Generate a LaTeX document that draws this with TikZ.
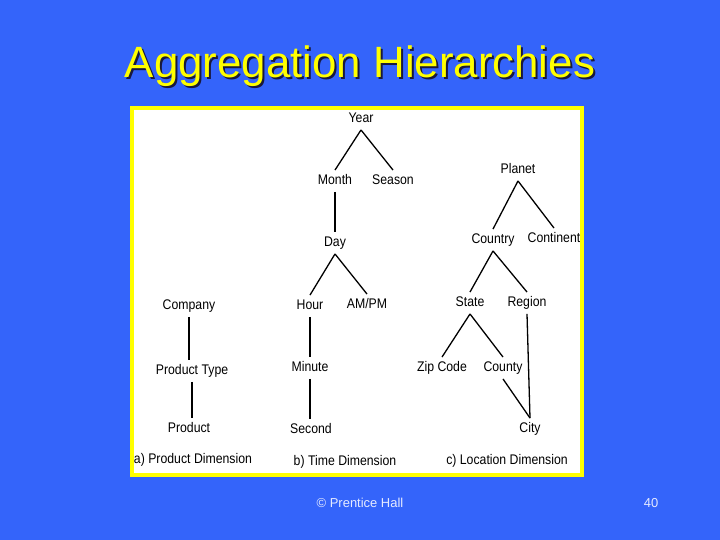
\documentclass[tikz,border=0pt]{standalone}
\usepackage{fontspec}
\setmainfont{Liberation Sans}
\newfontfamily\narrowfont[FakeStretch=0.88]{Liberation Sans}
\definecolor{slideblue}{RGB}{52,100,250}
\definecolor{slideyellow}{RGB}{255,255,0}
\definecolor{titleshadow}{RGB}{25,25,60}
\definecolor{footgray}{RGB}{230,235,255}

\begin{document}
\begin{tikzpicture}[x=1bp, y=-1bp,
	lbl/.style={inner xsep=1bp, inner ysep=4bp, text height=10.5bp, text depth=3bp, font=\narrowfont\fontsize{14}{16}\selectfont},
	caption/.style={inner sep=1bp, font=\narrowfont\fontsize{14}{16}\selectfont},
	edge/.style={line width=1.3bp, black}]
	%%%	Sfondo
	\useasboundingbox (0,0) rectangle (720,540);
	\fill[slideblue] (0,0) rectangle (720,540);
	\fill[white] (132,108) rectangle (582,475);
	%%%	Titolo
	\node[slideyellow, font=\fontsize{44}{48}\selectfont] (title) at (360,67)
		{\rlap{\kern2bp\raisebox{-2bp}{\color{titleshadow}Aggregation Hierarchies}}Aggregation Hierarchies};
	%%%	a) Product
	\node[lbl] (company) at (189,306) {Company};
	\node[lbl] (ptype) at (192,371) {Product Type};
	\node[lbl] (product) at (189,429) {Product};
	%%%	b) Time
	\node[lbl] (year) at (361,119) {Year};
	\node[lbl] (month) at (335,181) {Month};
	\node[lbl] (season) at (393,181) {Season};
	\node[lbl] (day) at (335,243) {Day};
	\node[lbl] (hour) at (310,306) {Hour};
	\node[lbl] (ampm) at (367,305) {AM/PM};
	\node[lbl] (minute) at (310,368) {Minute};
	\node[lbl] (second) at (311,430) {Second};
	%%%	c) Location
	\node[lbl] (planet) at (518,170) {Planet};
	\node[lbl] (country) at (493,240) {Country};
	\node[lbl] (continent) at (554,239) {Continent};
	\node[lbl] (state) at (470,303) {State};
	\node[lbl] (region) at (527,303) {Region};
	\node[lbl] (zip) at (442,368) {Zip Code};
	\node[lbl] (county) at (503,368) {County};
	\node[lbl] (city) at (530,429) {City};
	%%%	Collegamenti verticali
	\foreach \a/\b in {company/ptype, ptype/product, month/day, hour/minute, minute/second}
	\draw[edge] (\a.south) -- (\a.south |- \b.north);
	%%%	Collegamenti obliqui
	\foreach \a/\b in {year/month, year/season, day/hour, day/ampm,
		planet/country, planet/continent, country/state, country/region,
		state/zip, state/county, county/city, region/city}
	\draw[edge] (\a.south) -- (\b.north);
	%%%	Didascalie
	\node[caption] (capa) at (193,460) {a) Product Dimension};
	\node[caption] (capb) at (345,462) {b) Time Dimension};
	\node[caption] (capc) at (507,461) {c) Location Dimension};
	%%%	Cornice
	\draw[slideyellow, line width=4bp] (132,108) rectangle (582,475);
	%%%	Pie di pagina
	\node[footgray, font=\fontsize{13}{15}\selectfont] (copy) at (360,503) {© Prentice Hall};
	\node[footgray, font=\fontsize{13}{15}\selectfont] (page) at (651,503) {40};
\end{tikzpicture}
\end{document}
